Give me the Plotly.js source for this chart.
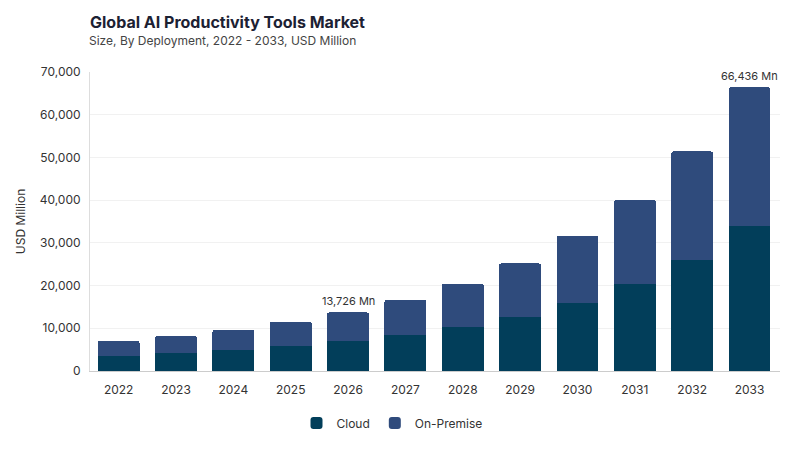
<!DOCTYPE html>
<html>
<head>
<meta charset="utf-8">
<script src="https://cdn.plot.ly/plotly-3.0.1.min.js"></script>
<style>
  body { margin: 0; background: #fff; }
  #grafico { width: 800px; height: 450px; }
</style>
</head>
<body>
<div id="grafico"></div>
<script>
// datos
var anios = ['2022', '2023', '2024', '2025', '2026', '2027', '2028', '2029', '2030', '2031', '2032', '2033'];
var nube = [3550, 4200, 4900, 5850, 7000, 8400, 10300, 12700, 16000, 20400, 26000, 34000];
var local = [3500, 4000, 4700, 5650, 6726, 8200, 10100, 12500, 15600, 19600, 25400, 32436];
var anotados = ['2026', '2033'];

var fuente = 'Inter, "Open Sans", sans-serif';

var trace1 = {
  x: anios,
  y: nube,
  name: 'Cloud',
  type: 'bar',
  marker: { color: '#023e5a' }
};

var trace2 = {
  x: anios,
  y: local,
  name: 'On-Premise',
  type: 'bar',
  marker: { color: '#2f4b7c' }
};

// etiquetas de total encima de algunas barras (x como indice de categoria)
var notas = anotados.map(function (a) {
  var i = anios.indexOf(a);
  var total = nube[i] + local[i];
  return {
    x: i,
    y: total,
    xref: 'x', yref: 'y',
    text: total.toLocaleString('en-US') + ' Mn',
    showarrow: false,
    yanchor: 'bottom',
    yshift: 2,
    font: { family: fuente, size: 11, color: '#333' }
  };
});

// subtitulo
notas.push({
  xref: 'paper', yref: 'paper',
  x: 0, y: 1.104,
  xshift: -3,
  xanchor: 'left', yanchor: 'middle',
  showarrow: false,
  text: 'Size, By Deployment, 2022 - 2033, USD Million',
  font: { family: fuente, size: 12, color: '#444' }
});

var layout = {
  width: 800,
  height: 450,
  barmode: 'stack',
  bargap: 0.27,
  barcornerradius: 2,
  margin: { l: 90, r: 20, t: 72, b: 79, autoexpand: false },
  paper_bgcolor: '#fff',
  plot_bgcolor: '#fff',
  font: { family: fuente, size: 12, color: '#333' },
  title: {
    text: '<b>Global AI Productivity Tools Market</b>',
    x: 90 / 800, xref: 'container', xanchor: 'left',
    y: 1 - 22 / 450, yref: 'container', yanchor: 'middle',
    font: { family: fuente, size: 16, color: '#1c2133' }
  },
  xaxis: {
    type: 'category',
    showgrid: false,
    showline: true,
    linecolor: '#ccc',
    ticks: '',
    ticklabelstandoff: 8,
    tickfont: { size: 12, color: '#333' }
  },
  yaxis: {
    range: [0, 70000],
    dtick: 10000,
    tickformat: ',d',
    showgrid: true,
    gridcolor: '#f1f1f1',
    showline: true,
    linecolor: '#ddd',
    zeroline: false,
    ticks: '',
    ticklabelstandoff: 6,
    tickfont: { size: 12, color: '#333' },
    title: { text: 'USD Million', font: { size: 12, color: '#333' }, standoff: 11 }
  },
  legend: {
    orientation: 'h',
    traceorder: 'normal',
    xref: 'container', yref: 'container',
    x: 0.49, xanchor: 'center',
    y: 1 - 423 / 450, yanchor: 'middle',
    font: { size: 12, color: '#333' }
  },
  annotations: notas
};

Plotly.newPlot('grafico', [trace1, trace2], layout, { displayModeBar: false });
</script>
</body>
</html>
